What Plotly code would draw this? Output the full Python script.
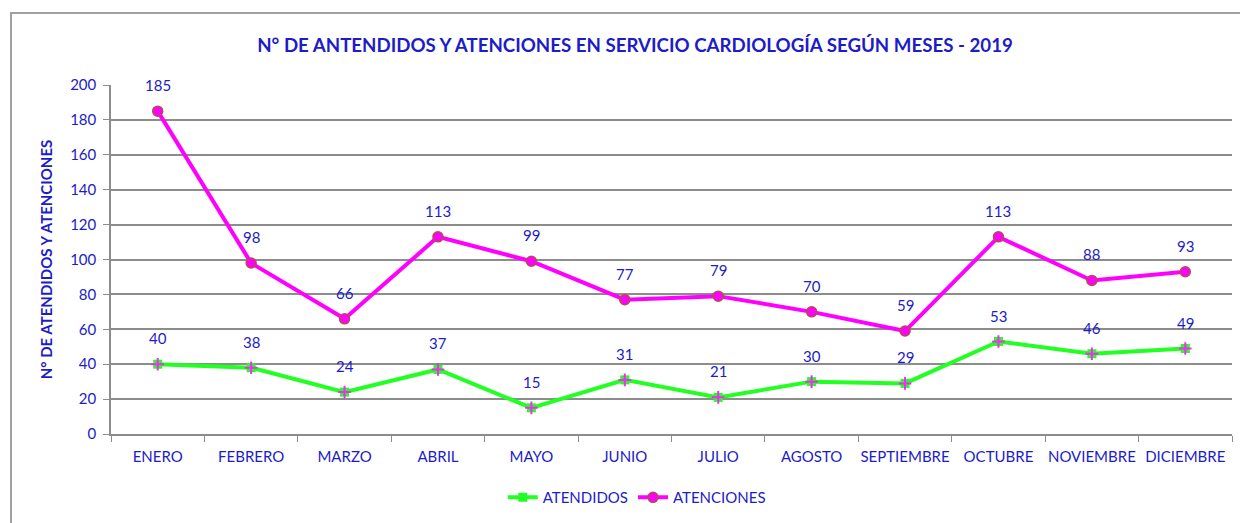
import plotly.graph_objects as go

meses = ["ENERO", "FEBRERO", "MARZO", "ABRIL", "MAYO", "JUNIO", "JULIO",
         "AGOSTO", "SEPTIEMBRE", "OCTUBRE", "NOVIEMBRE", "DICIEMBRE"]
atendidos = [40, 38, 24, 37, 15, 31, 21, 30, 29, 53, 46, 49]
atenciones = [185, 98, 66, 113, 99, 77, 79, 70, 59, 113, 88, 93]

BLUE = "#1c1cc8"
FONT = "Lato"

fig = go.Figure()
fig.add_trace(go.Scatter(
    x=meses, y=atendidos, name="ATENDIDOS", mode="lines+markers",
    line=dict(color="#22ff22", width=4),
    marker=dict(symbol="square", size=9, color="#22ff22"),
))
fig.add_trace(go.Scatter(
    x=meses, y=atendidos, showlegend=False, mode="markers", hoverinfo="skip",
    marker=dict(symbol="cross-thin", size=9, line=dict(color="#ff22ff", width=2)),
))
fig.add_trace(go.Scatter(
    x=meses, y=atenciones, name="ATENCIONES", mode="lines+markers",
    line=dict(color="#ff00ff", width=4),
    marker=dict(symbol="circle", size=10, color="#ff00ff",
                line=dict(color="#b0504a", width=1.5)),
))

for series in (atendidos, atenciones):
    for m, v in zip(meses, series):
        fig.add_annotation(x=m, y=v, text=str(v), showarrow=False, yshift=26,
                           font=dict(family=FONT, size=15, color=BLUE))

fig.update_layout(
    width=1248, height=523,
    paper_bgcolor="white", plot_bgcolor="white",
    margin=dict(l=103, r=24, t=77, b=97, autoexpand=False),
    title=dict(text="<b>N° DE ANTENDIDOS Y ATENCIONES EN SERVICIO CARDIOLOGÍA SEGÚN MESES - 2019</b>",
               x=(635 - 8) / 1248, xanchor="center", y=1 - (45 - 8) / 523, yanchor="middle",
               font=dict(family=FONT, size=18.7, color=BLUE)),
    font=dict(family=FONT, size=14, color=BLUE),
    legend=dict(orientation="h", x=0.469, xanchor="center", y=-0.135, yanchor="top",
                font=dict(family=FONT, size=15, color=BLUE)),
    shapes=[dict(type="rect", xref="paper", yref="paper", x0=-0.0892, x1=1.03,
                 y0=-0.3, y1=(426 - 5) / 349, line=dict(color="#a0a0a0", width=2))],
)
fig.update_xaxes(range=[-0.5, len(meses) - 0.5],
                 showline=True, linecolor="#8c8c8c", linewidth=1.5,
                 ticks="outside", tickson="boundaries", ticklen=6,
                 tickcolor="#8c8c8c", showgrid=False, tickangle=0, automargin=False,
                 ticklabelstandoff=8,
                 tickfont=dict(family=FONT, size=15, color=BLUE))
fig.update_yaxes(range=[0, 200], dtick=20, showline=True, linecolor="#8c8c8c",
                 linewidth=1.5, ticks="outside", ticklen=6, tickcolor="#8c8c8c",
                 gridcolor="#8c8c8c", gridwidth=1.5, zeroline=False, automargin=False,
                 ticklabelstandoff=4,
                 title=dict(text="<b>N° DE ATENDIDOS Y ATENCIONES</b>",
                            font=dict(family=FONT, size=15, color=BLUE), standoff=14),
                 tickfont=dict(family=FONT, size=15, color=BLUE))

fig.write_html("out.html")
